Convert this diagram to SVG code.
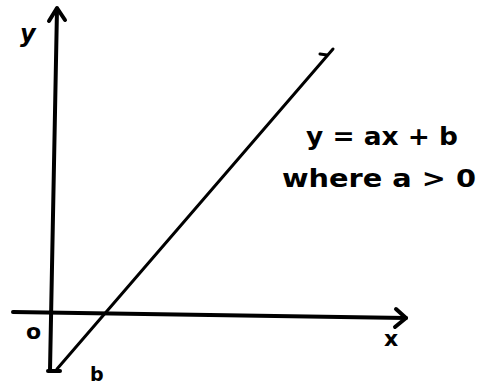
<svg xmlns="http://www.w3.org/2000/svg" width="485" height="387" viewBox="0 0 485 387">
<defs>
<style>
.ax{stroke:#000;stroke-width:4;fill:none;stroke-linecap:round;stroke-linejoin:round}
.ln{stroke:#000;stroke-width:3;fill:none;stroke-linecap:round}
.t{font-family:"DejaVu Sans","Liberation Sans",sans-serif;fill:#000;font-weight:bold}
</style>
</defs>
<rect width="485" height="387" fill="#fff"/>
<g id="connectors">
<g id="y-axis">
<path class="ax" d="M50,370 L57,9"/>
<path class="ax" d="M49,21 L57,8 L65,20"/>
</g>
<g id="x-axis">
<path class="ax" d="M13,312 L406,318"/>
<path class="ax" d="M396,309 L406,318 L395,327"/>
</g>
<g id="line">
<path class="ln" d="M57,369 L333,49"/>
<path class="ln" d="M320,54 L327,55"/>
<path class="ax" d="M48,371 L60,371"/>
</g>
</g>
<g id="labels">
<text class="t" x="20" y="42" font-size="24" font-style="italic">y</text>
<text class="t" x="26" y="339" font-size="22">o</text>
<text class="t" x="90" y="381" font-size="19">b</text>
<text class="t" x="384" y="346" font-size="22">x</text>
<text class="t" x="306" y="145" font-size="25" textLength="152" lengthAdjust="spacingAndGlyphs">y = ax + b</text>
<text class="t" x="282" y="187" font-size="24" textLength="194" lengthAdjust="spacingAndGlyphs">where  a &gt; 0</text>
</g>
</svg>
